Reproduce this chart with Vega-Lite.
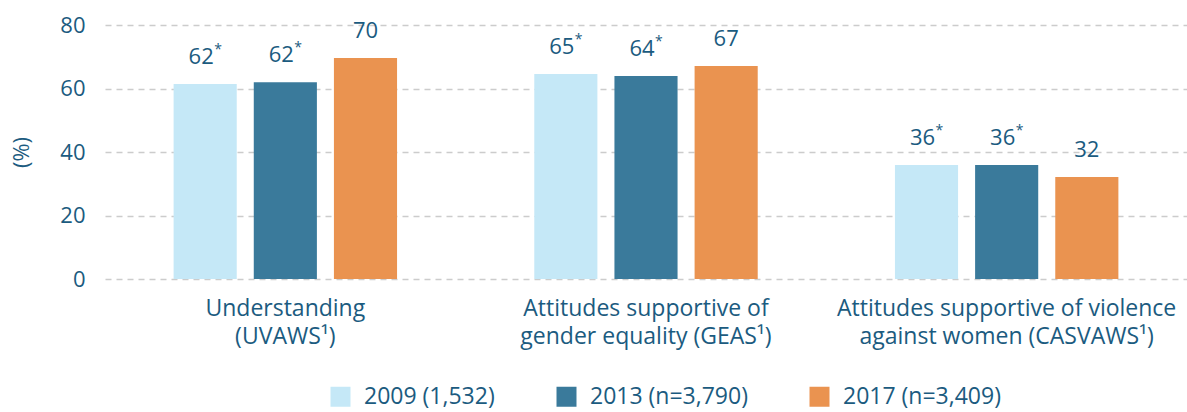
{
  "$schema": "https://vega.github.io/schema/vega-lite/v6.json",
  "width": 1082,
  "height": 254,
  "autosize": {"type": "none"},
  "padding": {"left": 105, "top": 25, "right": 0, "bottom": 133},
  "background": "white",
  "config": {
    "font": "Open Sans",
    "view": {"stroke": null},
    "axis": {"labelColor": "#1B5B80", "titleColor": "#1B5B80", "labelFont": "Open Sans", "titleFont": "Open Sans"}
  },
  "data": {
    "values": [
      {"cat": "Understanding|(UVAWS¹)", "year": "2009 (1,532)", "value": 61.4, "label": "62", "star": "*"},
      {"cat": "Understanding|(UVAWS¹)", "year": "2013 (n=3,790)", "value": 62.0, "label": "62", "star": "*"},
      {"cat": "Understanding|(UVAWS¹)", "year": "2017 (n=3,409)", "value": 69.6, "label": "70", "star": ""},
      {"cat": "Attitudes supportive of|gender equality (GEAS¹)", "year": "2009 (1,532)", "value": 64.6, "label": "65", "star": "*"},
      {"cat": "Attitudes supportive of|gender equality (GEAS¹)", "year": "2013 (n=3,790)", "value": 63.9, "label": "64", "star": "*"},
      {"cat": "Attitudes supportive of|gender equality (GEAS¹)", "year": "2017 (n=3,409)", "value": 67.1, "label": "67", "star": ""},
      {"cat": "Attitudes supportive of violence|against women (CASVAWS¹)", "year": "2009 (1,532)", "value": 35.9, "label": "36", "star": "*"},
      {"cat": "Attitudes supportive of violence|against women (CASVAWS¹)", "year": "2013 (n=3,790)", "value": 35.9, "label": "36", "star": "*"},
      {"cat": "Attitudes supportive of violence|against women (CASVAWS¹)", "year": "2017 (n=3,409)", "value": 32.1, "label": "32", "star": ""}
    ]
  },
  "encoding": {
    "x": {
      "field": "cat", "type": "nominal", "sort": null, "title": null,
      "scale": {"paddingInner": 0, "paddingOuter": 0},
      "axis": {
        "labelAngle": 0, "domain": false, "ticks": false,
        "labelFontSize": 23, "labelPadding": 18, "labelLineHeight": 28,
        "labelExpr": "split(datum.label, '|')", "labelLimit": 400
      }
    },
    "xOffset": {"field": "year", "type": "nominal", "sort": null, "scale": {"paddingInner": 0.2125, "paddingOuter": 0.856}},
    "y": {
      "field": "value", "type": "quantitative", "title": "(%)",
      "scale": {"domain": [0, 80], "nice": false},
      "axis": {
        "values": [0, 20, 40, 60, 80], "domain": false, "ticks": false,
        "labelFontSize": 22, "labelPadding": 20,
        "grid": true, "gridColor": "#cccccc", "gridDash": [6, 5], "gridWidth": 1.5,
        "titleFontSize": 22, "titleFontWeight": "normal", "titlePadding": 26
      }
    }
  },
  "layer": [
    {
      "mark": {"type": "bar"},
      "encoding": {
        "color": {
          "field": "year", "type": "nominal", "sort": null,
          "scale": {"domain": ["2009 (1,532)", "2013 (n=3,790)", "2017 (n=3,409)"], "range": ["#C5E8F7", "#3A7A9B", "#EA9350"]},
          "legend": {
            "title": null, "orient": "none", "direction": "horizontal",
            "legendX": 224, "legendY": 360,
            "symbolType": "square", "symbolSize": 400, "symbolStrokeWidth": 0,
            "labelFontSize": 23, "labelColor": "#1B5B80", "labelFont": "Open Sans",
            "labelOffset": 12, "columnPadding": 60, "labelLimit": 300
          }
        }
      }
    },
    {
      "transform": [{"filter": "datum.star == '*'"}],
      "mark": {"type": "text", "fontSize": 22, "color": "#1B5B80", "baseline": "alphabetic", "dy": -20, "dx": -4, "align": "center"},
      "encoding": {"text": {"field": "label"}}
    },
    {
      "transform": [{"filter": "datum.star == ''"}],
      "mark": {"type": "text", "fontSize": 22, "color": "#1B5B80", "baseline": "alphabetic", "dy": -20, "align": "center"},
      "encoding": {"text": {"field": "label"}}
    },
    {
      "transform": [{"filter": "datum.star == '*'"}],
      "mark": {"type": "text", "fontSize": 14, "color": "#1B5B80", "baseline": "alphabetic", "dy": -30, "dx": 9, "align": "left"},
      "encoding": {"text": {"field": "star"}}
    }
  ]
}
